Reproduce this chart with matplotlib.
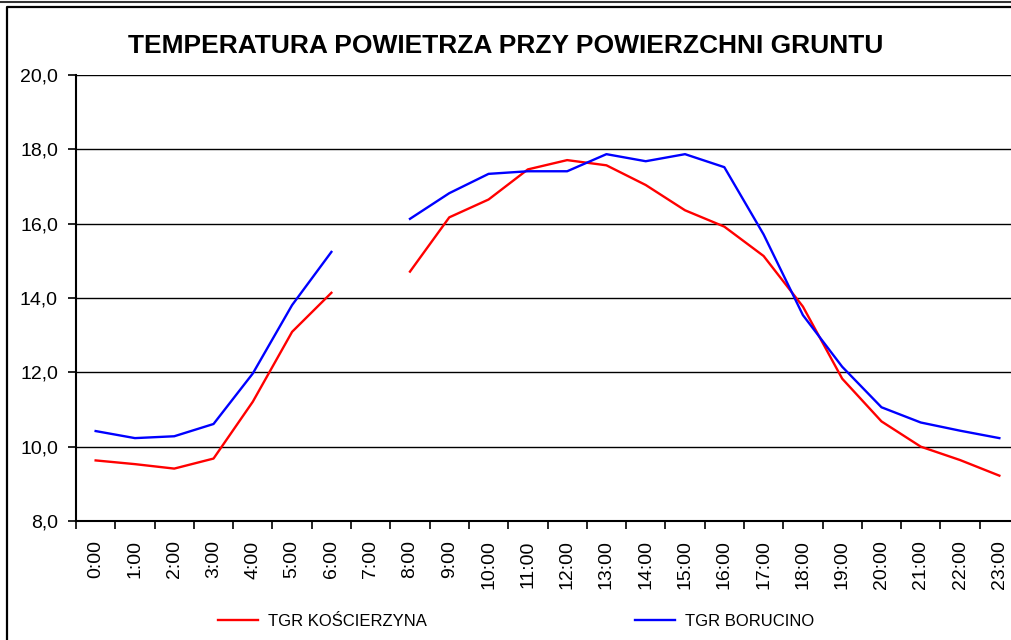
import numpy as np
import matplotlib
matplotlib.use('Agg')
import matplotlib.pyplot as plt
from matplotlib.ticker import MultipleLocator, FixedLocator, FuncFormatter
from matplotlib.lines import Line2D

hours = ['%d:00' % h for h in range(24)]
koscierzyna = [9.63, 9.53, 9.41, 9.68, 11.21, 13.09, 14.14, np.nan, 14.71, 16.17,
               16.65, 17.46, 17.71, 17.57, 17.04, 16.36, 15.92, 15.13, 13.77, 11.83,
               10.68, 10.00, 9.64, 9.22]
borucino = [10.42, 10.23, 10.28, 10.61, 11.97, 13.81, 15.24, np.nan, 16.13, 16.82,
            17.34, 17.41, 17.41, 17.87, 17.68, 17.87, 17.52, 15.71, 13.54, 12.15,
            11.06, 10.65, 10.43, 10.23]

plt.rcParams['font.family'] = ['Liberation Sans', 'DejaVu Sans']

fig = plt.figure(figsize=(10.11, 6.4), dpi=100)
ax = fig.add_axes([76 / 1011, 1 - 521 / 640, 943 / 1011, 446 / 640])

x = np.arange(len(hours))
ax.plot(x, koscierzyna, color='#ff0000', lw=1.7, label='TGR KOŚCIERZYNA')
ax.plot(x, borucino, color='#0000ff', lw=1.7, label='TGR BORUCINO')

ax.set_xlim(-0.5, len(hours) - 0.5)
ax.set_ylim(8, 20)
ax.yaxis.set_major_locator(MultipleLocator(2))
ax.yaxis.set_major_formatter(FuncFormatter(lambda v, p: ('%.1f' % v).replace('.', ',')))
ax.grid(axis='y', color='black', lw=1)
ax.set_axisbelow(True)

ax.set_xticks(x)
ax.set_xticklabels(hours, rotation=90, fontsize=14)
ax.tick_params(axis='x', which='major', length=0, pad=14)
ax.xaxis.set_minor_locator(FixedLocator(np.arange(-0.5, len(hours), 1)))
ax.tick_params(axis='x', which='minor', length=6, width=1.2, direction='out')
ax.tick_params(axis='y', length=6, width=1.2, direction='out', labelsize=14, pad=7)

for s in ['top', 'right']:
    ax.spines[s].set_visible(False)
for s in ['left', 'bottom']:
    ax.spines[s].set_linewidth(1.5)

fig.text(0.5, 1 - 46 / 640, 'TEMPERATURA POWIETRZA PRZY POWIERZCHNI GRUNTU',
         ha='center', va='center', fontsize=19, fontweight='bold')

fig.legend(loc='center', bbox_to_anchor=(516 / 1011, 1 - 621 / 640), ncol=2,
           frameon=False, fontsize=12, handlelength=2.4, columnspacing=12.5,
           handletextpad=0.6)

# obramowanie wykresu
fig.add_artist(Line2D([0, 1], [1 - 2 / 640, 1 - 2 / 640], color='#333333', lw=1.5,
                      transform=fig.transFigure))
fig.add_artist(Line2D([7 / 1011, 7 / 1011, 1], [0, 1 - 7 / 640, 1 - 7 / 640],
                      color='black', lw=1.6, transform=fig.transFigure))

fig.savefig('out.png', dpi=100)
